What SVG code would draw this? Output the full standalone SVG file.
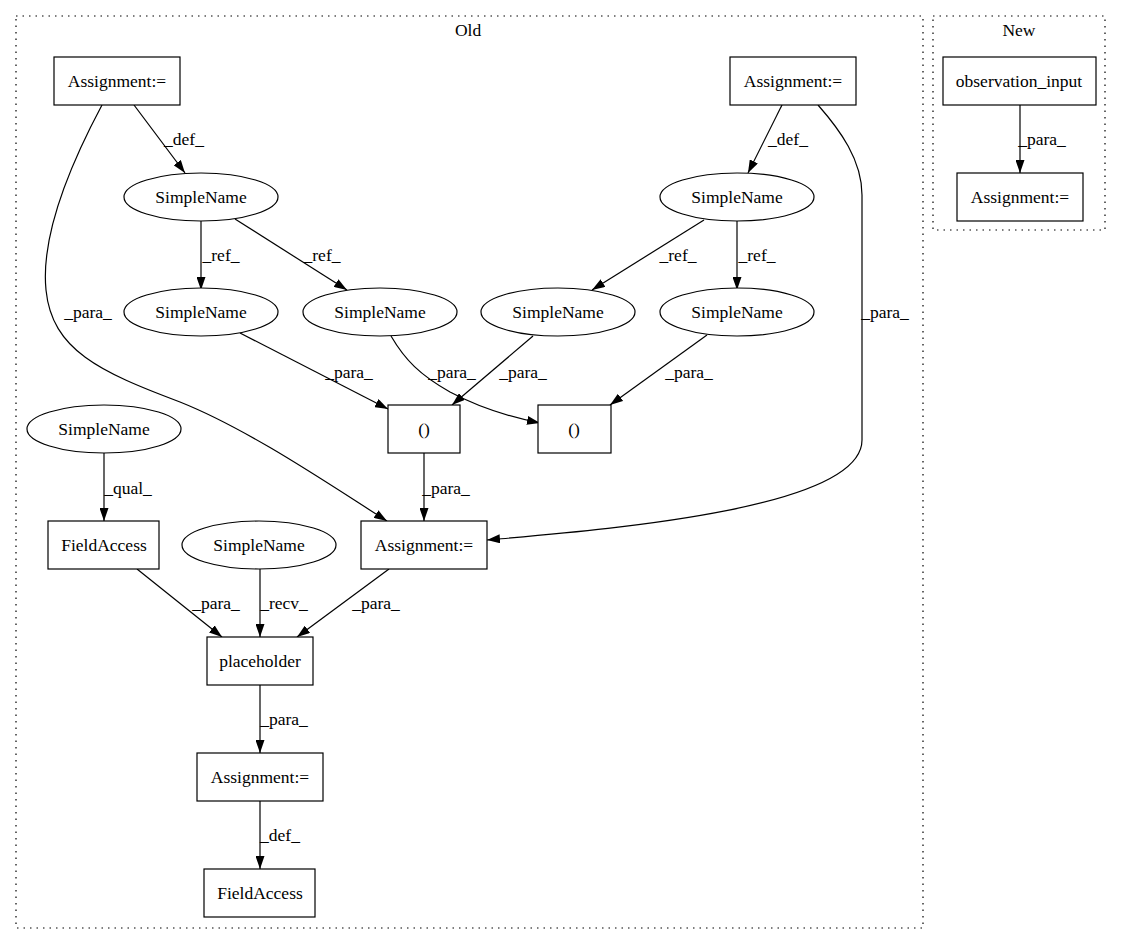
<svg xmlns="http://www.w3.org/2000/svg" width="1123" height="944" viewBox="0 0 1123 944">
<style>
text{font-family:"Liberation Serif","Times New Roman",serif;font-size:17.5px;text-anchor:middle;fill:#000}
.n{fill:#fff;stroke:#000;stroke-width:1.2}
.c{fill:none;stroke:#000;stroke-width:1.2;stroke-dasharray:1.5,5}
.e{fill:none;stroke:#000;stroke-width:1.2;marker-end:url(#ah)}
</style>
<defs>
<marker id="ah" markerUnits="userSpaceOnUse" markerWidth="13" markerHeight="9" refX="13" refY="4.5" orient="auto">
<path d="M0,0 L13,4.5 L0,9 z" fill="#000"/>
</marker>
</defs>
<rect width="1123" height="944" fill="#fff"/>
<g id="cluster-old">
<rect class="c" x="16" y="16" width="907" height="912"/>
<text x="468" y="36">Old</text>
</g>
<g id="cluster-new">
<rect class="c" x="933" y="16" width="172" height="214"/>
<text x="1019" y="36">New</text>
</g>
<g id="edges">
<path class="e" d="M134,105 L185,173"/>
<text x="184" y="145">_def_</text>
<path class="e" d="M201,221 L201,290"/>
<text x="221" y="261">_ref_</text>
<path class="e" d="M235,219 L347,290"/>
<text x="322" y="261">_ref_</text>
<path class="e" d="M782,105 L748,173"/>
<text x="788" y="145">_def_</text>
<path class="e" d="M704,220 L592,290"/>
<text x="678" y="261">_ref_</text>
<path class="e" d="M737,221 L737,290"/>
<text x="757" y="261">_ref_</text>
<path class="e" d="M102,105 C78,150 40,230 46,290 C52,350 100,372 180,402 C250,430 330,485 387,521"/>
<text x="88" y="318">_para_</text>
<path class="e" d="M818,105 C840,130 862,160 862,195 L862,440 C862,510 600,530 487,540"/>
<text x="885" y="318">_para_</text>
<path class="e" d="M240,333 L388,409"/>
<text x="349" y="378">_para_</text>
<path class="e" d="M391,336 C405,360 420,375 450,392 C480,408 510,417 540,423"/>
<text x="452" y="378">_para_</text>
<path class="e" d="M533,336 L452,405"/>
<text x="523" y="378">_para_</text>
<path class="e" d="M707,335 L610,405"/>
<text x="689" y="378">_para_</text>
<path class="e" d="M424,453 L424,521"/>
<text x="446" y="494">_para_</text>
<path class="e" d="M104,453 L104,521"/>
<text x="128" y="494">_qual_</text>
<path class="e" d="M137,569 L222,637"/>
<text x="216" y="609">_para_</text>
<path class="e" d="M260,569 L260,637"/>
<text x="284" y="609">_recv_</text>
<path class="e" d="M389,569 L297,637"/>
<text x="376" y="609">_para_</text>
<path class="e" d="M260,685 L260,753"/>
<text x="284" y="725">_para_</text>
<path class="e" d="M260,801 L260,869"/>
<text x="280" y="841">_def_</text>
<path class="e" d="M1020,105 L1020,173"/>
<text x="1042" y="145">_para_</text>
</g>
<g id="A1"><rect class="n" x="54" y="57" width="126" height="48"/><text x="117" y="87">Assignment:=</text></g>
<g id="A2"><rect class="n" x="730" y="57" width="126" height="48"/><text x="793" y="87">Assignment:=</text></g>
<g id="SN1"><ellipse class="n" cx="201" cy="197" rx="77" ry="24"/><text x="201" y="203">SimpleName</text></g>
<g id="SN2"><ellipse class="n" cx="737" cy="197" rx="77" ry="24"/><text x="737" y="203">SimpleName</text></g>
<g id="SN3"><ellipse class="n" cx="201" cy="312" rx="77" ry="24"/><text x="201" y="318">SimpleName</text></g>
<g id="SN4"><ellipse class="n" cx="380" cy="312" rx="77" ry="24"/><text x="380" y="318">SimpleName</text></g>
<g id="SN5"><ellipse class="n" cx="558" cy="312" rx="77" ry="24"/><text x="558" y="318">SimpleName</text></g>
<g id="SN6"><ellipse class="n" cx="737" cy="312" rx="77" ry="24"/><text x="737" y="318">SimpleName</text></g>
<g id="P1"><rect class="n" x="388" y="405" width="72" height="48"/><text x="424" y="435">()</text></g>
<g id="P2"><rect class="n" x="538" y="405" width="73" height="48"/><text x="574" y="435">()</text></g>
<g id="SN7"><ellipse class="n" cx="104" cy="429" rx="77" ry="24"/><text x="104" y="435">SimpleName</text></g>
<g id="FA1"><rect class="n" x="48" y="521" width="111" height="48"/><text x="104" y="551">FieldAccess</text></g>
<g id="SN8"><ellipse class="n" cx="259" cy="545" rx="77" ry="24"/><text x="259" y="551">SimpleName</text></g>
<g id="A3"><rect class="n" x="361" y="521" width="126" height="48"/><text x="424" y="551">Assignment:=</text></g>
<g id="PH"><rect class="n" x="207" y="637" width="106" height="48"/><text x="260" y="667">placeholder</text></g>
<g id="A4"><rect class="n" x="197" y="753" width="126" height="48"/><text x="260" y="783">Assignment:=</text></g>
<g id="FA2"><rect class="n" x="204" y="869" width="111" height="48"/><text x="260" y="899">FieldAccess</text></g>
<g id="OI"><rect class="n" x="943" y="57" width="153" height="48"/><text x="1019" y="87">observation_input</text></g>
<g id="A5"><rect class="n" x="957" y="173" width="126" height="48"/><text x="1020" y="203">Assignment:=</text></g>
</svg>
